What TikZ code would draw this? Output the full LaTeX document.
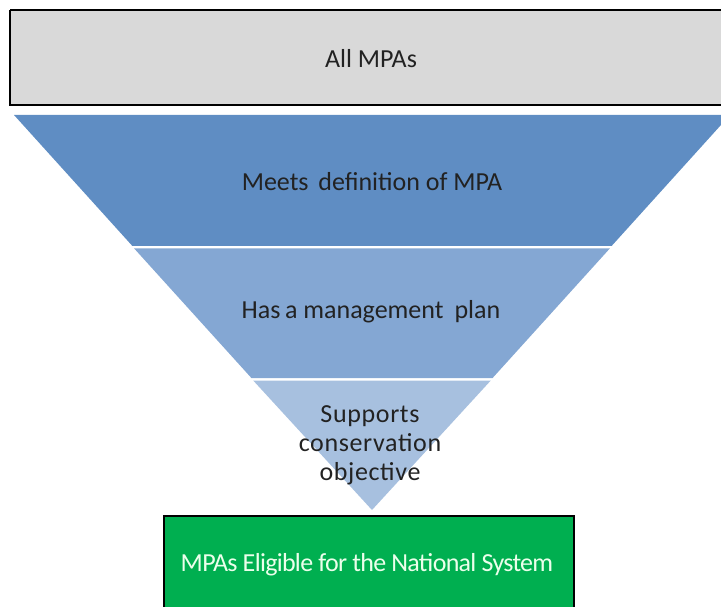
\documentclass[tikz,border=0pt]{standalone}
\usepackage{fontspec}
\setmainfont{Carlito}
\definecolor{boxgray}{HTML}{D9D9D9}
\definecolor{bandA}{HTML}{5F8DC3}
\definecolor{bandB}{HTML}{84A7D3}
\definecolor{bandC}{HTML}{A7C0DF}
\definecolor{greenbox}{HTML}{00AF50}
\definecolor{txt}{HTML}{222222}
\tikzset{
  band/.style={draw=none},
  lbl/.style={font=\fontsize{26}{29}\selectfont, text=txt, align=center, inner sep=0pt},
  framebox/.style={draw=black, line width=1.6pt},
}
\begin{document}
\begin{tikzpicture}[x=1pt,y=-1pt]
\useasboundingbox (0,0) rectangle (721,607);
% top box
\fill[boxgray] (10,10) rectangle (725,105);
\draw[framebox] (10,10) -- (10,105) -- (725,105);
\draw[framebox] (10,10) -- (725,10);
\node[lbl] (all) at (371,59) {All MPAs};
% funnel bands
\fill[bandA] (14,115) -- (730,115) -- (611.6,246) -- (132.4,246) -- cycle;
\fill[bandB] (134.2,248.5) -- (609.8,248.5) -- (492.6,378) -- (251.4,378) -- cycle;
\fill[bandC] (253.2,380.5) -- (490.8,380.5) -- (372,510) -- cycle;
\node[lbl] (meets) at (372,182) {Meets\hspace{0.15em} definition of MPA};
\node[lbl] (plan) at (371,312) {Has\hspace{-0.05em} a management\hspace{0.2em} plan};
\node[lbl, font=\fontsize{26}{29}\selectfont\addfontfeature{LetterSpace=2.5}] (supports) at (370,445) {Supports\\conservation\\objective};
% bottom box
\fill[greenbox] (164,516) rectangle (574,615);
\draw[black, line width=1.2pt] (164,615) -- (164,516) -- (574,516) -- (574,615);
\node[lbl, text=white!92!green, font=\fontsize{26}{29}\selectfont\addfontfeature{LetterSpace=-2.7}] (eligible) at (367,565) {MPAs Eligible for the National System};
\end{tikzpicture}
\end{document}
